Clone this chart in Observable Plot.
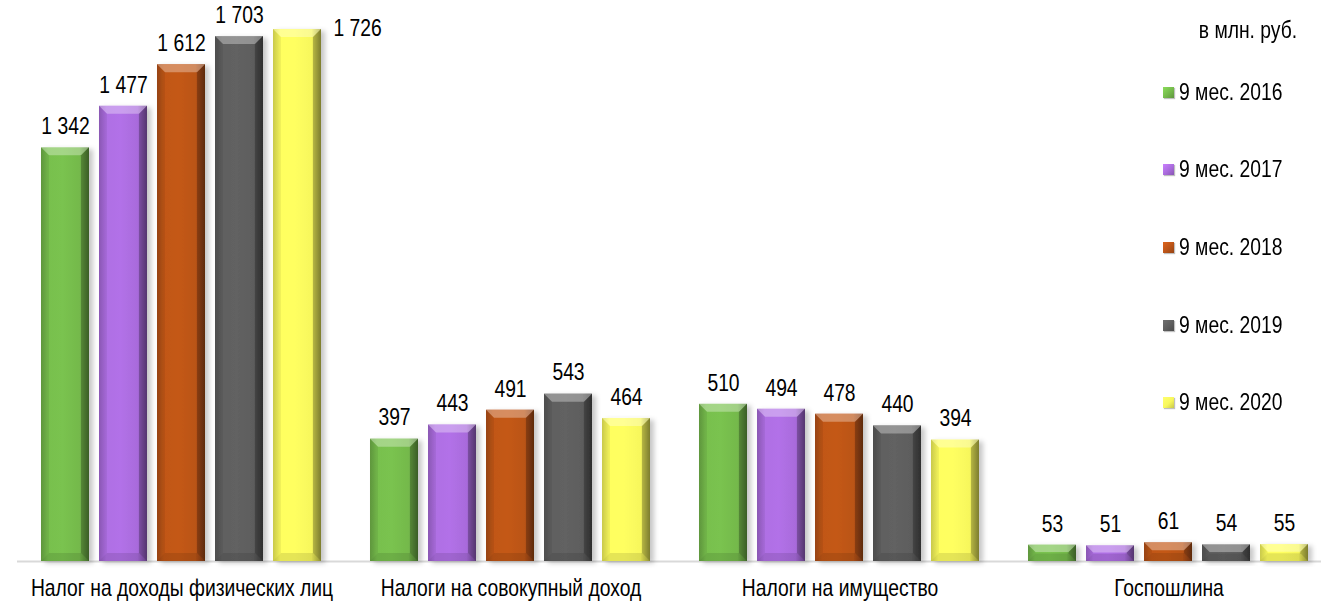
<!DOCTYPE html>
<html><head><meta charset="utf-8">
<script src="https://cdn.jsdelivr.net/npm/d3@7"></script>
<script src="https://cdn.jsdelivr.net/npm/@observablehq/plot@0.6"></script>
<style>
body{margin:0;background:#fff;}
#wrap{position:relative;width:1321px;height:603px;overflow:hidden;font-family:"Liberation Sans",Arial,sans-serif;color:#000;}
#legend{position:absolute;left:0;top:0;width:1321px;height:603px;pointer-events:none;}
.unit{position:absolute;right:24px;top:18px;font-size:23px;line-height:24px;white-space:nowrap;transform:scaleX(0.84);transform-origin:right center;}
.item{position:absolute;left:1163px;height:24px;display:flex;align-items:center;font-size:23px;white-space:nowrap;}
.item span{display:inline-block;transform:scaleX(0.84);transform-origin:left center;}
.sw{width:11px;height:11px;margin-right:5px;box-shadow:1px 1px 1px rgba(0,0,0,0.25);}
</style></head>
<body><div id="wrap"><div id="legend"></div></div>
<script>
const categories = ["Налог на доходы физических лиц","Налоги на совокупный доход","Налоги на имущество","Госпошлина"];
const periods = ["9 мес. 2016","9 мес. 2017","9 мес. 2018","9 мес. 2019","9 мес. 2020"];
const v2016 = [1342, 397, 510, 53];
const v2017 = [1477, 443, 494, 51];
const v2018 = [1612, 491, 478, 61];
const v2019 = [1703, 543, 440, 54];
const v2020 = [1726, 464, 394, 55];
const colors = ["#74b94b","#a96bdc","#ba5418","#5d5d5d","#f7f75c"];
const unitLabel = "в млн. руб.";

const series = [v2016, v2017, v2018, v2019, v2020];
const data = [];
categories.forEach((c, i) => periods.forEach((p, j) => data.push({category: c, period: p, value: series[j][i]})));
const maxVal = d3.max(data, d => d.value);
const fmt = v => d3.format(",")(v).replace(/,/g, " ");
const FONT = '"Liberation Sans",Arial,sans-serif';
const NARROW = 0.84;

const chart = Plot.plot({
  width: 1321, height: 603,
  marginTop: 29, marginBottom: 42, marginLeft: 15, marginRight: 0,
  style: {fontFamily: FONT, background: "transparent", overflow: "visible"},
  fx: {domain: categories, range: [15, 1334], padding: 0, label: null},
  x: {domain: periods, paddingInner: 0.166, paddingOuter: 0.39, axis: null},
  y: {domain: [0, maxVal], axis: null},
  color: {domain: periods, range: periods.map((d, i) => `url(#grad${i})`)},
  marks: [
    Plot.ruleY([0], {stroke: "#d9d9d9", strokeWidth: 2}),
    Plot.barY(data, {fx: "category", x: "period", y: "value", fill: "period", className: "bevelbars"}),
    Plot.text(data.filter(d => d.value !== maxVal), {fx: "category", x: "period", y: "value", text: d => fmt(d.value), dy: -21, fontSize: 23, fill: "#000"}),
    Plot.text(data.filter(d => d.value === maxVal), {fx: "category", x: "period", y: "value", text: d => fmt(d.value), dx: 36, dy: -1, textAnchor: "start", fontSize: 23, fill: "#000"}),
    Plot.axisFx({anchor: "bottom", tickSize: 0, tickPadding: 18, fontSize: 23, label: null})
  ]
});

const svg = d3.select(chart);
const defs = svg.insert("defs", ":first-child");
colors.forEach((c, i) => {
  const base = d3.color(c);
  const g = defs.append("linearGradient").attr("id", `grad${i}`).attr("x1", 0).attr("x2", 1).attr("y1", 0).attr("y2", 0);
  g.append("stop").attr("offset", "0%").attr("stop-color", base.darker(0.4));
  g.append("stop").attr("offset", "15%").attr("stop-color", base.brighter(0.1));
  g.append("stop").attr("offset", "45%").attr("stop-color", base.brighter(0.15));
  g.append("stop").attr("offset", "80%").attr("stop-color", base);
  g.append("stop").attr("offset", "100%").attr("stop-color", base.darker(1.2));
});
const f = defs.append("filter").attr("id", "shadow").attr("x", "-20%").attr("y", "-20%").attr("width", "150%").attr("height", "150%");
f.append("feDropShadow").attr("dx", 4).attr("dy", 2).attr("stdDeviation", 2.5).attr("flood-color", "#000").attr("flood-opacity", 0.22);

svg.selectAll("g.bevelbars rect").each(function() {
  const r = d3.select(this);
  r.attr("filter", "url(#shadow)");
  const x = +r.attr("x"), y = +r.attr("y"), w = +r.attr("width"), h = +r.attr("height");
  const b = Math.min(8, h / 2.2);
  const p = d3.select(this.parentNode);
  const poly = (pts, fill, op) => p.append("polygon").attr("points", pts.map(q => q.join(",")).join(" ")).attr("fill", fill).attr("fill-opacity", op);
  poly([[x, y], [x + w, y], [x + w - b, y + b], [x + b, y + b]], "#fff", 0.32);
  poly([[x + w, y], [x + w, y + h], [x + w - b, y + h - b], [x + w - b, y + b]], "#000", 0.22);
  poly([[x, y], [x + b, y + b], [x + b, y + h - b], [x, y + h]], "#000", 0.06);
  poly([[x, y + h], [x + b, y + h - b], [x + w - b, y + h - b], [x + w, y + h]], "#000", 0.1);
});

// narrow (condensed) look of the text, as in the reference
svg.selectAll("text").each(function() {
  const t = this;
  const tr = t.getAttribute("transform");
  if (tr) {
    t.setAttribute("transform", tr + ` scale(${NARROW},1)`);
  } else {
    const x = +(t.getAttribute("x") || 0), y = +(t.getAttribute("y") || 0);
    t.removeAttribute("x"); t.removeAttribute("y");
    t.setAttribute("transform", `translate(${x},${y}) scale(${NARROW},1)`);
  }
});

const wrap = document.getElementById("wrap");
wrap.insertBefore(chart, wrap.firstChild);

const legend = d3.select("#legend");
legend.append("div").attr("class", "unit").text(unitLabel);
periods.forEach((p, i) => {
  const c = d3.color(colors[i]);
  const it = legend.append("div").attr("class", "item").style("top", (92 + i * 77.7 - 12) + "px");
  it.append("div").attr("class", "sw").style("background", `linear-gradient(135deg, ${c.brighter(0.5)}, ${c} 55%, ${c.darker(0.6)})`);
  it.append("span").text(p);
});
</script>
</body></html>
